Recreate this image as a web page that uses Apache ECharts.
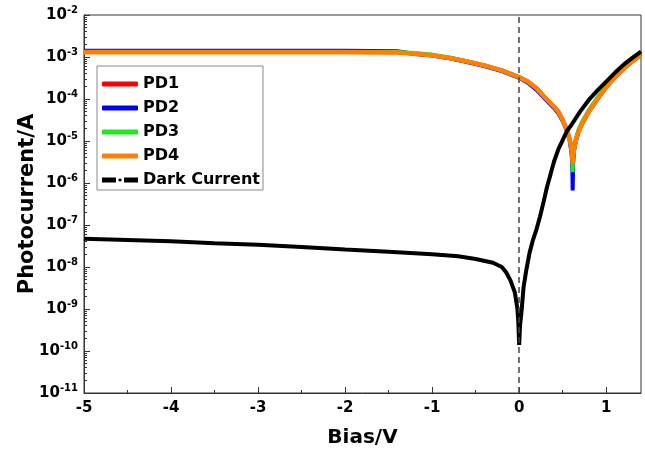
<!DOCTYPE html>
<html>
<head>
<meta charset="utf-8">
<script src="https://cdn.jsdelivr.net/npm/echarts@6/dist/echarts.min.js"></script>
<style>
html,body{margin:0;padding:0;background:#fff;}
#chart{width:645px;height:453px;}
</style>
</head>
<body>
<div id="chart"></div>
<script>
// ---- data ----
const biasPD = [-5,-4,-3,-2,-1.4,-1.2,-1.0,-0.8,-0.6,-0.4,-0.2,0,0.1,0.2,0.3,0.4,0.45,0.5,0.55,0.58,0.6,0.61,0.615,0.62,0.63,0.65,0.68,0.72,0.76,0.8,0.85,0.9,1.0,1.1,1.2,1.3,1.4];
const pd1 = [1.32e-3,1.32e-3,1.32e-3,1.32e-3,1.3e-3,1.2e-3,1.1e-3,9.5e-4,7.8e-4,6.3e-4,4.8e-4,3.3e-4,2.6e-4,1.8e-4,1.07e-4,6.6e-5,5e-5,3.2e-5,1.8e-5,1.1e-5,7e-6,4.5e-6,2.5e-6,4.2e-6,6.3e-6,1.05e-5,1.7e-5,2.6e-5,3.7e-5,5.2e-5,7.3e-5,1.05e-4,1.95e-4,3.4e-4,5.4e-4,8.3e-4,1.18e-3];
const pd2 = [1.4e-3,1.4e-3,1.4e-3,1.4e-3,1.38e-3,1.18e-3,1.08e-3,9.3e-4,7.6e-4,6.1e-4,4.6e-4,3.2e-4,2.45e-4,1.65e-4,1.0e-4,6.1e-5,4.6e-5,3e-5,1.7e-5,1.05e-5,5.5e-6,3e-6,6.6e-7,2.8e-6,5.8e-6,9.5e-6,1.6e-5,2.5e-5,3.5e-5,5e-5,7e-5,1e-4,1.9e-4,3.3e-4,5.2e-4,7.9e-4,1.12e-3];
const pd3 = [1.33e-3,1.33e-3,1.33e-3,1.33e-3,1.32e-3,1.25e-3,1.14e-3,9.7e-4,7.9e-4,6.3e-4,4.8e-4,3.3e-4,2.6e-4,1.8e-4,1.07e-4,6.6e-5,5e-5,3.2e-5,1.8e-5,1.1e-5,7e-6,4.5e-6,1.8e-6,4.5e-6,6.8e-6,1.1e-5,1.8e-5,2.8e-5,3.9e-5,5.5e-5,7.7e-5,1.1e-4,2.05e-4,3.6e-4,5.7e-4,8.8e-4,1.25e-3];
const pd4 = [1.3e-3,1.3e-3,1.3e-3,1.3e-3,1.28e-3,1.2e-3,1.1e-3,9.5e-4,7.8e-4,6.3e-4,4.8e-4,3.3e-4,2.6e-4,1.8e-4,1.07e-4,6.6e-5,5e-5,3.2e-5,1.8e-5,1.1e-5,7e-6,4.5e-6,3e-6,4.2e-6,6.3e-6,1e-5,1.6e-5,2.5e-5,3.5e-5,5e-5,7e-5,1e-4,1.9e-4,3.3e-4,5.2e-4,7.9e-4,1.12e-3];
const biasDark = [-5,-4.5,-4,-3.5,-3,-2.5,-2,-1.5,-1,-0.7,-0.5,-0.3,-0.2,-0.15,-0.1,-0.05,-0.02,-0.01,0,0.01,0.03,0.05,0.08,0.12,0.16,0.2,0.24,0.28,0.32,0.36,0.4,0.45,0.5,0.55,0.6,0.7,0.8,0.9,1.0,1.1,1.2,1.3,1.4];
const dark = [4.7e-8,4.4e-8,4.1e-8,3.7e-8,3.4e-8,3.0e-8,2.6e-8,2.3e-8,2.0e-8,1.8e-8,1.55e-8,1.26e-8,1.0e-8,7.5e-9,4.8e-9,2.5e-9,1.0e-9,5e-10,1.4e-10,4e-10,1.0e-9,3.2e-9,8e-9,2.2e-8,4.5e-8,8e-8,1.6e-7,3.5e-7,8e-7,1.6e-6,3.2e-6,6.3e-6,1.05e-5,1.75e-5,2.4e-5,5e-5,9.5e-5,1.6e-4,2.6e-4,4.2e-4,6.6e-4,9.5e-4,1.35e-3];

const seriesNames = ['PD1','PD2','PD3','PD4','Dark Current'];
const xMajorTicks = [-5,-4,-3,-2,-1,0,1];
const xMinorTicks = [-4.5,-3.5,-2.5,-1.5,-0.5,0.5];
const yExponents = [-11,-10,-9,-8,-7,-6,-5,-4,-3,-2];
const minorMantissas = [2,3,4,5,6,7,8,9];

const yMajorTicks = yExponents.map(e => Math.pow(10, e));
const yMinorTicks = [];
yExponents.slice(0, -1).forEach(e => minorMantissas.forEach(m => yMinorTicks.push(m * Math.pow(10, e))));

function pairs(xs, ys){ return xs.map((x,i)=>[x, ys[i]]); }

const FONT = 'DejaVu Sans';
const chart = echarts.init(document.getElementById('chart'), null, {renderer:'canvas'});

const darkIcon = 'path://M0,0H14V5H0Z M16.5,1.2H19.5V3.8H16.5Z M22,0H36V5H22Z';

chart.setOption({
  animation:false,
  backgroundColor:'#fff',
  grid:{left:84, right:4, top:15, bottom:60, show:true, borderColor:'#333', borderWidth:1, backgroundColor:'transparent'},
  legend:{
    orient:'vertical', left:97, top:66,
    padding:[10,3,2,5], itemGap:8, itemWidth:36, itemHeight:5,
    backgroundColor:'#fff', borderColor:'#888', borderWidth:1, borderRadius:0,
    textStyle:{fontFamily:FONT, fontWeight:'bold', fontSize:16, color:'#000'},
    data:[
      {name:'PD1', icon:'roundRect'},
      {name:'PD2', icon:'roundRect'},
      {name:'PD3', icon:'roundRect'},
      {name:'PD4', icon:'roundRect'},
      {name:'Dark Current', icon:darkIcon}
    ]
  },
  xAxis:[{
    type:'value', min:-5, max:1.4,
    name:'Bias/V', nameLocation:'middle', nameGap:35, nameMoveOverlap:false,
    nameTextStyle:{fontFamily:FONT, fontWeight:'bold', fontSize:20, color:'#000'},
    axisLine:{show:true, onZero:false, lineStyle:{color:'#333', width:1}},
    axisTick:{show:true, inside:true, length:6, customValues:xMajorTicks, lineStyle:{color:'#333'}},
    axisLabel:{customValues:xMajorTicks, margin:8, fontFamily:FONT, fontWeight:'bold', fontSize:15, color:'#000'},
    splitLine:{show:false}
  },{
    type:'value', min:-5, max:1.4, position:'bottom',
    axisLine:{show:false, onZero:false},
    axisTick:{show:true, inside:true, length:3, customValues:xMinorTicks, lineStyle:{color:'#333'}},
    axisLabel:{show:false}, splitLine:{show:false}
  }],
  yAxis:[{
    type:'log', min:1e-11, max:1e-2, logBase:10,
    name:'Photocurrent/A', nameLocation:'middle', nameGap:46, nameRotate:90, nameMoveOverlap:false,
    nameTextStyle:{fontFamily:FONT, fontWeight:'bold', fontSize:21, color:'#000'},
    axisLine:{show:true, onZero:false, lineStyle:{color:'#333', width:1}},
    axisTick:{show:true, inside:true, length:6, customValues:yMajorTicks, lineStyle:{color:'#333'}},
    axisLabel:{
      customValues:yMajorTicks, margin:6,
      formatter:function(v){ const e = Math.round(Math.log10(v)); return '{b|10}{s|' + e + '}'; },
      rich:{
        b:{fontFamily:FONT, fontWeight:'bold', fontSize:15, color:'#000'},
        s:{fontFamily:FONT, fontWeight:'bold', fontSize:10, color:'#000', padding:[0,0,9,0]}
      }
    },
    splitLine:{show:false}, minorSplitLine:{show:false}
  },{
    type:'log', min:1e-11, max:1e-2, logBase:10, position:'left',
    axisLine:{show:false, onZero:false},
    axisTick:{show:true, inside:true, length:3, customValues:yMinorTicks, lineStyle:{color:'#333'}},
    axisLabel:{show:false}, splitLine:{show:false}
  }],
  series:[
    {name:'PD1', type:'line', data:pairs(biasPD, pd1), showSymbol:false, symbol:'none', lineStyle:{color:'#ff0000', width:4}, itemStyle:{color:'#ff0000'}},
    {name:'PD2', type:'line', data:pairs(biasPD, pd2), showSymbol:false, symbol:'none', lineStyle:{color:'#0000ff', width:4}, itemStyle:{color:'#0000ff'}},
    {name:'PD3', type:'line', data:pairs(biasPD, pd3), showSymbol:false, symbol:'none', lineStyle:{color:'#22e622', width:4}, itemStyle:{color:'#22e622'}},
    {name:'PD4', type:'line', data:pairs(biasPD, pd4), showSymbol:false, symbol:'none', lineStyle:{color:'#ff8000', width:4.5}, itemStyle:{color:'#ff8000'}},
    {name:'Dark Current', type:'line', data:pairs(biasDark, dark), showSymbol:false, symbol:'none',
      lineStyle:{color:'#000', width:4}, itemStyle:{color:'#000'},
      markLine:{silent:true, symbol:'none', label:{show:false},
        lineStyle:{color:'#444', width:1.5, type:[6,4]},
        data:[{xAxis:0}]}
    }
  ]
});
</script>
</body>
</html>
